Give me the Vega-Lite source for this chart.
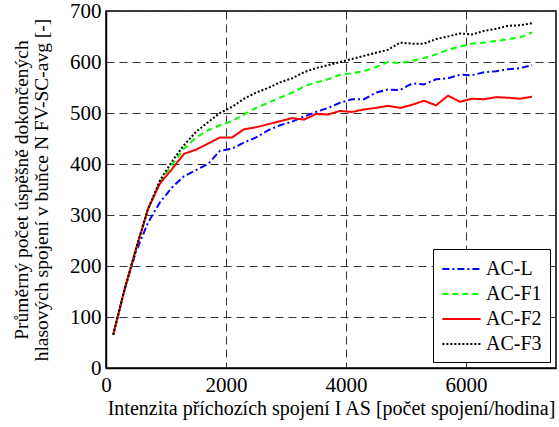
{
  "$schema": "https://vega.github.io/schema/vega-lite/v6.json",
  "width": 450,
  "height": 357,
  "autosize": {"type": "none"},
  "padding": {"left": 106, "top": 11, "right": 3, "bottom": 59},
  "config": {
    "font": "Liberation Serif",
    "view": {"stroke": "black", "strokeWidth": 1.5},
    "axis": {
      "labelFont": "Liberation Serif",
      "titleFont": "Liberation Serif",
      "labelFontSize": 21,
      "titleFontSize": 20,
      "titleFontWeight": "normal",
      "labelColor": "black",
      "titleColor": "black",
      "domainColor": "black",
      "domainWidth": 1.5,
      "tickColor": "black",
      "ticks": false,
      "gridColor": "#333",
      "gridDash": [8, 5],
      "gridWidth": 1,
      "gridOpacity": 1,
      "titleLimit": 600
    },
    "legend": {
      "labelFont": "Liberation Serif",
      "labelFontSize": 20,
      "labelColor": "black"
    }
  },
  "data": {
    "values": [
      {"x":120,"s":"AC-L","y":65},{"x":300,"s":"AC-L","y":150},{"x":500,"s":"AC-L","y":228},{"x":700,"s":"AC-L","y":285},{"x":900,"s":"AC-L","y":325},{"x":1100,"s":"AC-L","y":354},{"x":1300,"s":"AC-L","y":376},{"x":1500,"s":"AC-L","y":388},{"x":1700,"s":"AC-L","y":400},{"x":1900,"s":"AC-L","y":426},{"x":2100,"s":"AC-L","y":430},{"x":2300,"s":"AC-L","y":442},{"x":2500,"s":"AC-L","y":452},{"x":2700,"s":"AC-L","y":466},{"x":2900,"s":"AC-L","y":476},{"x":3100,"s":"AC-L","y":483},{"x":3300,"s":"AC-L","y":493},{"x":3500,"s":"AC-L","y":502},{"x":3700,"s":"AC-L","y":510},{"x":3900,"s":"AC-L","y":520},{"x":4100,"s":"AC-L","y":527},{"x":4300,"s":"AC-L","y":527},{"x":4500,"s":"AC-L","y":540},{"x":4700,"s":"AC-L","y":546},{"x":4900,"s":"AC-L","y":545},{"x":5100,"s":"AC-L","y":558},{"x":5300,"s":"AC-L","y":556},{"x":5500,"s":"AC-L","y":566},{"x":5700,"s":"AC-L","y":568},{"x":5900,"s":"AC-L","y":575},{"x":6100,"s":"AC-L","y":574},{"x":6300,"s":"AC-L","y":580},{"x":6500,"s":"AC-L","y":582},{"x":6700,"s":"AC-L","y":586},{"x":6900,"s":"AC-L","y":588},{"x":7100,"s":"AC-L","y":594},
      {"x":120,"s":"AC-F1","y":65},{"x":300,"s":"AC-F1","y":150},{"x":500,"s":"AC-F1","y":233},{"x":700,"s":"AC-F1","y":310},{"x":900,"s":"AC-F1","y":365},{"x":1100,"s":"AC-F1","y":398},{"x":1300,"s":"AC-F1","y":430},{"x":1500,"s":"AC-F1","y":452},{"x":1700,"s":"AC-F1","y":466},{"x":1900,"s":"AC-F1","y":476},{"x":2100,"s":"AC-F1","y":484},{"x":2300,"s":"AC-F1","y":497},{"x":2500,"s":"AC-F1","y":510},{"x":2700,"s":"AC-F1","y":520},{"x":2900,"s":"AC-F1","y":530},{"x":3100,"s":"AC-F1","y":540},{"x":3300,"s":"AC-F1","y":552},{"x":3500,"s":"AC-F1","y":560},{"x":3700,"s":"AC-F1","y":566},{"x":3900,"s":"AC-F1","y":575},{"x":4100,"s":"AC-F1","y":578},{"x":4300,"s":"AC-F1","y":582},{"x":4500,"s":"AC-F1","y":590},{"x":4700,"s":"AC-F1","y":600},{"x":4900,"s":"AC-F1","y":598},{"x":5100,"s":"AC-F1","y":602},{"x":5300,"s":"AC-F1","y":608},{"x":5500,"s":"AC-F1","y":615},{"x":5700,"s":"AC-F1","y":624},{"x":5900,"s":"AC-F1","y":630},{"x":6100,"s":"AC-F1","y":636},{"x":6300,"s":"AC-F1","y":638},{"x":6500,"s":"AC-F1","y":641},{"x":6700,"s":"AC-F1","y":645},{"x":6900,"s":"AC-F1","y":648},{"x":7100,"s":"AC-F1","y":658},
      {"x":120,"s":"AC-F2","y":65},{"x":300,"s":"AC-F2","y":150},{"x":500,"s":"AC-F2","y":233},{"x":700,"s":"AC-F2","y":312},{"x":900,"s":"AC-F2","y":362},{"x":1100,"s":"AC-F2","y":390},{"x":1300,"s":"AC-F2","y":420},{"x":1500,"s":"AC-F2","y":428},{"x":1700,"s":"AC-F2","y":440},{"x":1900,"s":"AC-F2","y":452},{"x":2100,"s":"AC-F2","y":452},{"x":2300,"s":"AC-F2","y":468},{"x":2500,"s":"AC-F2","y":472},{"x":2700,"s":"AC-F2","y":478},{"x":2900,"s":"AC-F2","y":484},{"x":3100,"s":"AC-F2","y":490},{"x":3300,"s":"AC-F2","y":487},{"x":3500,"s":"AC-F2","y":498},{"x":3700,"s":"AC-F2","y":497},{"x":3900,"s":"AC-F2","y":504},{"x":4100,"s":"AC-F2","y":502},{"x":4300,"s":"AC-F2","y":507},{"x":4500,"s":"AC-F2","y":510},{"x":4700,"s":"AC-F2","y":514},{"x":4900,"s":"AC-F2","y":510},{"x":5100,"s":"AC-F2","y":516},{"x":5300,"s":"AC-F2","y":524},{"x":5500,"s":"AC-F2","y":515},{"x":5700,"s":"AC-F2","y":534},{"x":5900,"s":"AC-F2","y":522},{"x":6100,"s":"AC-F2","y":528},{"x":6300,"s":"AC-F2","y":527},{"x":6500,"s":"AC-F2","y":531},{"x":6700,"s":"AC-F2","y":530},{"x":6900,"s":"AC-F2","y":528},{"x":7100,"s":"AC-F2","y":532},
      {"x":120,"s":"AC-F3","y":65},{"x":300,"s":"AC-F3","y":150},{"x":500,"s":"AC-F3","y":234},{"x":700,"s":"AC-F3","y":312},{"x":900,"s":"AC-F3","y":368},{"x":1100,"s":"AC-F3","y":405},{"x":1300,"s":"AC-F3","y":437},{"x":1500,"s":"AC-F3","y":463},{"x":1700,"s":"AC-F3","y":482},{"x":1900,"s":"AC-F3","y":500},{"x":2100,"s":"AC-F3","y":512},{"x":2300,"s":"AC-F3","y":528},{"x":2500,"s":"AC-F3","y":540},{"x":2700,"s":"AC-F3","y":549},{"x":2900,"s":"AC-F3","y":560},{"x":3100,"s":"AC-F3","y":568},{"x":3300,"s":"AC-F3","y":580},{"x":3500,"s":"AC-F3","y":588},{"x":3700,"s":"AC-F3","y":594},{"x":3900,"s":"AC-F3","y":600},{"x":4100,"s":"AC-F3","y":606},{"x":4300,"s":"AC-F3","y":612},{"x":4500,"s":"AC-F3","y":618},{"x":4700,"s":"AC-F3","y":624},{"x":4900,"s":"AC-F3","y":638},{"x":5100,"s":"AC-F3","y":636},{"x":5300,"s":"AC-F3","y":636},{"x":5500,"s":"AC-F3","y":645},{"x":5700,"s":"AC-F3","y":650},{"x":5900,"s":"AC-F3","y":656},{"x":6100,"s":"AC-F3","y":654},{"x":6300,"s":"AC-F3","y":661},{"x":6500,"s":"AC-F3","y":665},{"x":6700,"s":"AC-F3","y":671},{"x":6900,"s":"AC-F3","y":672},{"x":7100,"s":"AC-F3","y":676}
    ]
  },
  "mark": {"type": "line", "strokeWidth": 2},
  "encoding": {
    "x": {
      "field": "x", "type": "quantitative",
      "scale": {"domain": [0, 7500], "nice": false},
      "axis": {"values": [0, 2000, 4000, 6000], "format": "d", "title": "Intenzita příchozích spojení  I AS  [počet spojení/hodina]", "titleFontSize": 20, "titlePadding": 3, "labelPadding": 6, "labelFlush": false}
    },
    "y": {
      "field": "y", "type": "quantitative",
      "scale": {"domain": [0, 700], "nice": false},
      "axis": {"values": [0, 100, 200, 300, 400, 500, 600, 700], "format": "d", "title": ["Průměrný počet úspěšně dokončených", "hlasových spojení v buňce N FV-SC-avg [-]"], "titleFontSize": 19.5, "titlePadding": 18, "labelPadding": 5, "titleLineHeight": 20}
    },
    "color": {
      "field": "s", "type": "nominal",
      "sort": ["AC-L", "AC-F1", "AC-F2", "AC-F3"],
      "scale": {"domain": ["AC-L", "AC-F1", "AC-F2", "AC-F3"], "range": ["#0000ff", "#00ff00", "#ff0000", "#000000"]},
      "legend": {
        "title": null, "orient": "bottom-right", "offset": 6,
        "symbolType": "M-1,0H2.6", "symbolSize": 450, "symbolStrokeWidth": 2,
        "fillColor": "white", "strokeColor": "black", "padding": 8,
        "rowPadding": 3, "labelOffset": 21
      }
    },
    "strokeDash": {
      "field": "s", "type": "nominal",
      "sort": ["AC-L", "AC-F1", "AC-F2", "AC-F3"],
      "scale": {"domain": ["AC-L", "AC-F1", "AC-F2", "AC-F3"], "range": [[7, 3, 2, 3], [6, 4], [1, 0], [2, 2]]},
      "legend": null
    }
  }
}
